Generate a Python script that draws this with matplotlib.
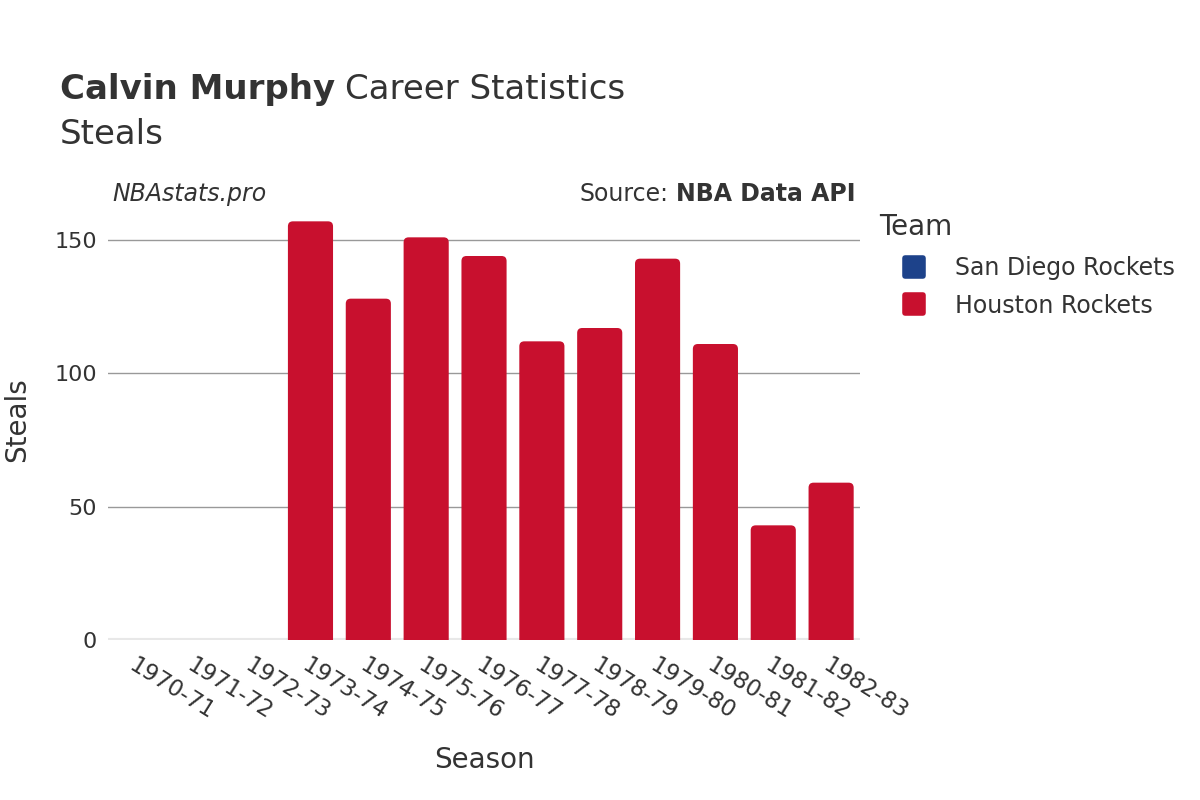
import matplotlib
matplotlib.use('Agg')
import matplotlib.pyplot as plt
from matplotlib.patches import FancyBboxPatch
from matplotlib.lines import Line2D
from matplotlib.markers import MarkerStyle
import numpy as np

seasons = ['1970-71', '1971-72', '1972-73', '1973-74', '1974-75', '1975-76', '1976-77',
           '1977-78', '1978-79', '1979-80', '1980-81', '1981-82', '1982-83']
teams = ['San Diego Rockets', 'Houston Rockets']
team_colors = ['#1D428A', '#C8102E']
# steals per season, by team (steals were not recorded before 1973-74)
san_diego = [0, None, None, None, None, None, None, None, None, None, None, None, None]
houston = [None, 0, 0, 157, 128, 151, 144, 112, 117, 143, 111, 43, 59]

plt.rcParams['font.family'] = ['DejaVu Sans']
text_col = '#333333'

fig = plt.figure(figsize=(12, 8), dpi=100)
ax = fig.add_axes([0.09, 0.2, 0.6267, 0.55])

x = np.arange(len(seasons))
width = 0.78
ymax = 165

# px per data unit, for rounded corners
px_x = 0.6267 * 1200 / len(seasons)
px_y = 0.55 * 800 / ymax
radius_px = 5

for vals, col in zip([san_diego, houston], team_colors):
    xs = [xi for xi, v in zip(x, vals) if v is not None]
    hs = [v for v in vals if v is not None]
    bars = ax.bar(xs, hs, width=width, color=col)
    for rect in bars:
        h = rect.get_height()
        rect.set_visible(False)
        if h <= 0:
            continue
        patch = FancyBboxPatch((rect.get_x(), -3), rect.get_width(), h + 3,
                               boxstyle='round,pad=0,rounding_size=%f' % (radius_px / px_x),
                               mutation_aspect=px_x / px_y,
                               facecolor=col, edgecolor='none', zorder=2)
        ax.add_patch(patch)

ax.set_xlim(-0.5, len(seasons) - 0.5)
ax.set_ylim(0, ymax)
ax.set_yticks([0, 50, 100, 150])
ax.yaxis.grid(True, color='#999999', linewidth=1)
ax.set_axisbelow(True)
ax.axhline(0, color='#e8e8e8', linewidth=3, zorder=1.5)
for s in ax.spines.values():
    s.set_visible(False)
ax.tick_params(axis='both', length=0, labelsize=16, colors=text_col, pad=8)
ax.tick_params(axis='x', pad=10, labelsize=16.5)
ax.set_xticks(x)
ax.set_xticklabels(seasons, rotation=-32, ha='left', rotation_mode='anchor')

ax.set_xlabel('Season', fontsize=20, color=text_col)
ax.xaxis.set_label_coords(0.5, -0.242)
ax.set_ylabel('Steals', fontsize=20, color=text_col)
ax.yaxis.set_label_coords(-0.102, 0.5)

fig.canvas.draw()
renderer = fig.canvas.get_renderer()

t1 = fig.text(0.05, 0.876, 'Calvin Murphy', fontsize=24.5, fontweight='bold', color=text_col, va='baseline')
bb = t1.get_window_extent(renderer)
fig.text(bb.x1 / 1200 + 0.008, 0.876, 'Career Statistics', fontsize=24.5, color=text_col, va='baseline')
fig.text(0.05, 0.82, 'Steals', fontsize=24.5, color=text_col, va='baseline')

fig.text(0.094, 0.749, 'NBAstats.pro', fontsize=17, style='italic', color=text_col, va='baseline')
src = fig.text(0.713, 0.749, 'NBA Data API', fontsize=17, fontweight='bold', color=text_col,
               va='baseline', ha='right')
bb = src.get_window_extent(renderer)
fig.text(bb.x0 / 1200 - 0.006, 0.749, 'Source:', fontsize=17, color=text_col, va='baseline', ha='right')

fig.text(879 / 1200, 1 - 227 / 800, 'Team', fontsize=20, color=text_col, va='center')
mk = MarkerStyle('s', joinstyle='round')
handles = [Line2D([0], [0], marker=mk, linestyle='none', markersize=13, markeredgewidth=4,
                  markerfacecolor=c, markeredgecolor=c) for c in team_colors]
leg = fig.legend(handles, teams, loc='upper left', bbox_to_anchor=(0.7467, 0.68),
                 frameon=False, fontsize=17, handlelength=1.5,
                 handletextpad=1.0, labelspacing=0.58, borderpad=0, borderaxespad=0)
for t in leg.get_texts():
    t.set_color(text_col)

fig.savefig('out.png', dpi=100, facecolor='white')
